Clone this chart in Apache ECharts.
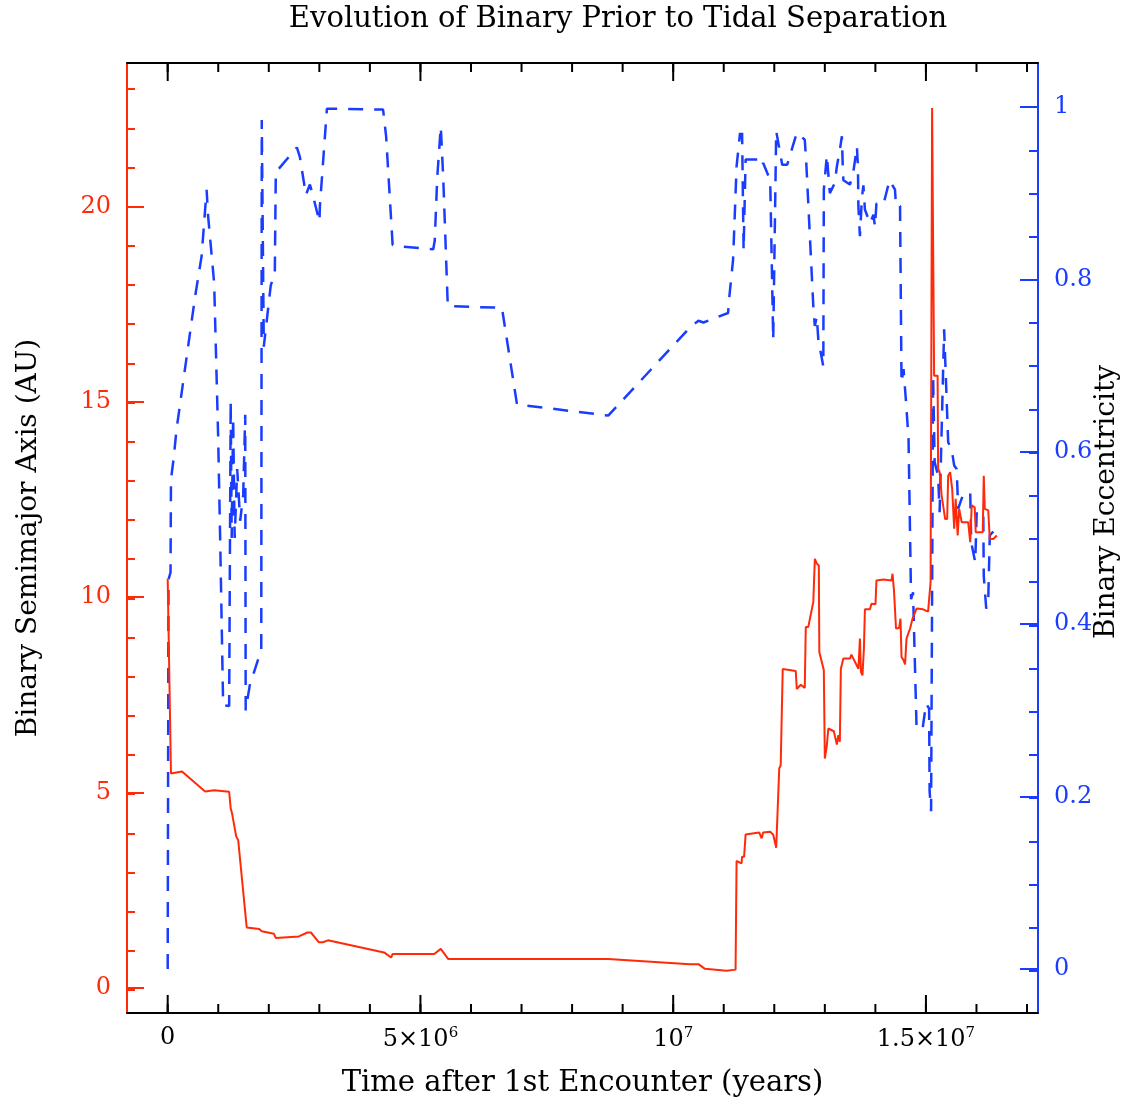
<!DOCTYPE html>
<html><head><meta charset="utf-8">
<script src="https://cdn.jsdelivr.net/npm/echarts@6/dist/echarts.min.js"></script>
<style>html,body{margin:0;padding:0;background:#fff}#c{width:1131px;height:1103px}</style>
</head><body><div id="c"></div>
<script>
// ---- data (time in Myr after 1st encounter) ----
const redTimeMyr = [
  0, 0.065, 0.284, 0.740, 0.919, 1.216, 1.246, 1.276, 1.355, 1.395,
  1.563, 1.811, 1.861, 2.099, 2.139, 2.595, 2.764, 2.833, 2.992, 3.071,
  3.170, 4.281, 4.420, 4.450, 5.273, 5.402, 5.551, 8.715, 10.331, 10.500,
  10.629, 11.056, 11.234, 11.254, 11.353, 11.363, 11.403, 11.433, 11.701, 11.750,
  11.780, 11.919, 11.979, 12.038, 12.098, 12.127, 12.167, 12.425, 12.445, 12.524,
  12.603, 12.623, 12.673, 12.772, 12.802, 12.841, 12.881, 12.891, 12.980, 13.000,
  13.040, 13.069, 13.178, 13.238, 13.267, 13.297, 13.317, 13.367, 13.496, 13.526,
  13.664, 13.694, 13.714, 13.744, 13.773, 13.793, 13.893, 13.922, 14.002, 14.021,
  14.160, 14.190, 14.319, 14.339, 14.368, 14.408, 14.468, 14.497, 14.517, 14.557,
  14.587, 14.616, 14.686, 14.735, 14.815, 14.944, 15.043, 15.092, 15.122, 15.162,
  15.231, 15.241, 15.271, 15.311, 15.380, 15.420, 15.440, 15.479, 15.519, 15.559,
  15.588, 15.628, 15.658, 15.707, 15.836, 15.876, 15.906, 15.965, 15.985, 16.124,
  16.144, 16.164, 16.233, 16.263, 16.333, 16.402
];
const semimajorAU = [
  10.47, 5.49, 5.54, 5.03, 5.06, 5.02, 4.60, 4.45, 3.88, 3.78,
  1.55, 1.51, 1.45, 1.39, 1.28, 1.32, 1.42, 1.42, 1.17, 1.17,
  1.22, 0.91, 0.78, 0.87, 0.87, 1.00, 0.74, 0.74, 0.61, 0.61,
  0.49, 0.44, 0.47, 3.25, 3.19, 3.36, 3.36, 3.93, 3.98, 3.83,
  3.98, 4.00, 3.92, 3.59, 5.62, 5.70, 8.16, 8.11, 7.65, 7.76,
  7.68, 9.24, 9.24, 9.88, 10.98, 10.86, 10.81, 8.60, 8.13, 5.87,
  6.21, 6.64, 6.57, 6.23, 6.47, 6.30, 8.17, 8.43, 8.43, 8.53,
  8.17, 8.94, 8.09, 8.00, 8.68, 9.69, 9.69, 9.83, 9.82, 10.43,
  10.45, 10.49, 10.43, 10.60, 10.17, 9.20, 9.21, 9.45, 8.47, 8.39,
  8.28, 8.94, 9.20, 9.45, 9.71, 9.69, 9.63, 10.39, 22.52, 15.67,
  15.67, 13.28, 13.20, 12.60, 12.00, 12.00, 13.11, 13.20, 12.77, 11.75,
  12.52, 11.58, 12.26, 11.92, 11.92, 11.41, 12.35, 12.30, 11.66, 11.66,
  13.11, 12.26, 12.22, 11.49, 11.49, 11.58
];
const blueTimeMyr = [
  0, 0.016, 0.056, 0.065, 0.115, 0.175, 0.313, 0.542, 0.671, 0.770,
  0.800, 0.919, 0.998, 1.038, 1.097, 1.216, 1.246, 1.266, 1.295, 1.325,
  1.375, 1.434, 1.494, 1.534, 1.543, 1.623, 1.772, 1.851, 1.861, 1.891,
  1.901, 2.039, 2.119, 2.139, 2.208, 2.555, 2.615, 2.734, 2.813, 2.853,
  3.002, 3.011, 3.150, 4.261, 4.321, 4.450, 4.658, 5.253, 5.283, 5.333,
  5.402, 5.422, 5.452, 5.541, 6.612, 6.910, 8.715, 10.361, 10.500, 10.599,
  11.086, 11.106, 11.185, 11.254, 11.323, 11.333, 11.363, 11.393, 11.433, 11.680,
  11.750, 11.780, 11.919, 11.979, 12.038, 12.068, 12.157, 12.256, 12.445, 12.603,
  12.633, 12.772, 12.802, 12.841, 12.871, 12.970, 12.980, 13.040, 13.099, 13.198,
  13.238, 13.297, 13.337, 13.357, 13.367, 13.496, 13.565, 13.635, 13.655, 13.664,
  13.694, 13.734, 13.763, 13.793, 13.893, 13.962, 13.992, 14.021, 14.160, 14.279,
  14.388, 14.408, 14.488, 14.517, 14.557, 14.607, 14.656, 14.706, 14.745, 14.815,
  14.934, 15.003, 15.063, 15.073, 15.102, 15.142, 15.172, 15.241, 15.271, 15.360,
  15.390, 15.440, 15.509, 15.559, 15.608, 15.638, 15.727, 15.777, 15.876, 15.896,
  15.975, 16.005, 16.134, 16.144, 16.193, 16.233, 16.263, 16.402
];
const eccentricity = [
  0, 0.452, 0.460, 0.568, 0.591, 0.626, 0.684, 0.780, 0.827, 0.904,
  0.873, 0.796, 0.618, 0.499, 0.306, 0.305, 0.659, 0.500, 0.640, 0.500,
  0.580, 0.520, 0.550, 0.643, 0.300, 0.329, 0.356, 0.370, 0.985, 0.985,
  0.722, 0.793, 0.807, 0.925, 0.929, 0.953, 0.942, 0.898, 0.910, 0.902,
  0.867, 0.885, 0.998, 0.997, 0.966, 0.840, 0.838, 0.835, 0.845, 0.919,
  0.977, 0.954, 0.916, 0.769, 0.767, 0.655, 0.642, 0.746, 0.752, 0.750,
  0.761, 0.777, 0.823, 0.931, 0.970, 0.958, 0.970, 0.834, 0.939, 0.939,
  0.931, 0.935, 0.915, 0.730, 0.972, 0.971, 0.933, 0.933, 0.970, 0.962,
  0.935, 0.769, 0.746, 0.757, 0.730, 0.699, 0.904, 0.944, 0.900, 0.912,
  0.931, 0.950, 0.966, 0.927, 0.915, 0.910, 0.925, 0.954, 0.930, 0.885,
  0.850, 0.895, 0.909, 0.881, 0.865, 0.875, 0.861, 0.888, 0.887, 0.915,
  0.904, 0.885, 0.885, 0.680, 0.696, 0.657, 0.615, 0.429, 0.437, 0.279,
  0.279, 0.308, 0.302, 0.206, 0.183, 0.688, 0.588, 0.572, 0.530, 0.742,
  0.742, 0.611, 0.603, 0.584, 0.580, 0.534, 0.549, 0.549, 0.553, 0.495,
  0.472, 0.530, 0.530, 0.456, 0.418, 0.429, 0.503, 0.512
];
const xMajorTicks = [0, 5e6, 1e7, 1.5e7];
const xTickLabels = ['0', '{n|5×10}{s|6}', '{n|10}{s|7}', '{n|1.5×10}{s|7}'];
const xMinorTicks = [0,1e6,2e6,3e6,4e6,5e6,6e6,7e6,8e6,9e6,1e7,1.1e7,1.2e7,1.3e7,1.4e7,1.5e7,1.6e7,1.7e7];
const leftMajorTicks = [0, 5, 10, 15, 20];
const leftMinorTicks = [0,1,2,3,4,5,6,7,8,9,10,11,12,13,14,15,16,17,18,19,20,21,22,23];
const rightMajorTicks = [0, 0.2, 0.4, 0.6, 0.8, 1];
const rightTickLabels = ['0', '0.2', '0.4', '0.6', '0.8', '1'];
const rightMinorTicks = [0,0.05,0.1,0.15,0.2,0.25,0.3,0.35,0.4,0.45,0.5,0.55,0.6,0.65,0.7,0.75,0.8,0.85,0.9,0.95,1];

const RED = '#ff2a0a', BLUE = '#1a3cff', FONT = 'DejaVu Serif';
const TICK_FS = 24, TITLE_FS = 29, YNAME_FS = 28;
const X_MIN = -0.805e6, X_MAX = 17.217e6;
const L_MIN = -0.64, L_MAX = 23.67, R_MIN = -0.051, R_MAX = 1.051;

const redData = redTimeMyr.map((t, i) => [t * 1e6, semimajorAU[i]]);
const blueData = blueTimeMyr.map((t, i) => [t * 1e6, eccentricity[i]]);

const gridBox = {left: 127, top: 63, width: 911, height: 952};
function line(show, color) {
  return {show: show, onZero: false, lineStyle: {color: color, width: 2}};
}
function ticks(values, len, color) {
  return {show: true, inside: true, length: len, customValues: values, lineStyle: {color: color, width: 2}};
}
const noLabel = () => ({show: false});
// x-axis tick marks (top and bottom frame), positioned through the x axis scale
function xTickSeries(values, len) {
  return {
    type: 'custom', xAxisIndex: 0, yAxisIndex: 0, silent: true, clip: false, z: 5,
    data: values.map(v => [v]), encode: {x: 0},
    renderItem: function (params, api) {
      const x = api.coord([api.value(0), 0])[0];
      const r = params.coordSys;
      const st = {stroke: '#000', lineWidth: 2};
      return {type: 'group', children: [
        {type: 'line', shape: {x1: x, y1: r.y + r.height, x2: x, y2: r.y + r.height - len}, style: st},
        {type: 'line', shape: {x1: x, y1: r.y, x2: x, y2: r.y + len}, style: st}
      ]};
    }
  };
}
const chart = echarts.init(document.getElementById('c'), null, {renderer: 'canvas'});
chart.setOption({
  animation: false,
  backgroundColor: '#fff',
  title: {
    text: 'Evolution of Binary Prior to Tidal Separation',
    left: 613, top: 0, textAlign: 'center',
    textStyle: {fontFamily: FONT, fontSize: TITLE_FS, fontWeight: 'normal', color: '#000'}
  },
  grid: [Object.assign({}, gridBox), Object.assign({}, gridBox)],
  xAxis: [
    {type: 'value', gridIndex: 0, position: 'bottom', min: X_MIN, max: X_MAX, splitLine: {show: false},
      axisLine: line(true, '#000'),
      axisTick: {show: false},
      axisLabel: {show: true, customValues: xMajorTicks, margin: 13, color: '#000',
        fontFamily: FONT, fontSize: TICK_FS,
        formatter: v => xTickLabels[xMajorTicks.indexOf(v)],
        rich: {n: {fontFamily: FONT, fontSize: TICK_FS, color: '#000', lineHeight: 28},
               s: {fontFamily: FONT, fontSize: 15, color: '#000', verticalAlign: 'top', lineHeight: 16}}},
      name: 'Time after 1st Encounter (years)', nameLocation: 'middle', nameGap: 56,
      nameTextStyle: {fontFamily: FONT, fontSize: TITLE_FS, color: '#000'}},
    {type: 'value', gridIndex: 0, position: 'top', min: X_MIN, max: X_MAX, splitLine: {show: false},
      axisLine: line(true, '#000'), axisTick: {show: false}, axisLabel: noLabel()},
    {type: 'value', gridIndex: 1, position: 'bottom', min: X_MIN, max: X_MAX, splitLine: {show: false},
      axisLine: line(false, '#000'), axisTick: {show: false}, axisLabel: noLabel()},
    {type: 'value', gridIndex: 1, position: 'top', min: X_MIN, max: X_MAX, splitLine: {show: false},
      axisLine: line(false, '#000'), axisTick: {show: false}, axisLabel: noLabel()}
  ],
  yAxis: [
    {type: 'value', gridIndex: 0, position: 'left', min: L_MIN, max: L_MAX, splitLine: {show: false},
      axisLine: line(true, RED), axisTick: ticks(leftMajorTicks, 17, RED),
      axisLabel: {show: true, customValues: leftMajorTicks, margin: 16, color: RED, fontFamily: FONT, fontSize: TICK_FS},
      name: 'Binary Semimajor Axis (AU)', nameLocation: 'middle', nameGap: 84, nameRotate: 90,
      nameTextStyle: {fontFamily: FONT, fontSize: YNAME_FS, color: '#000'}},
    {type: 'value', gridIndex: 0, position: 'right', min: R_MIN, max: R_MAX, splitLine: {show: false},
      axisLine: line(true, BLUE), axisTick: ticks(rightMajorTicks, 18, BLUE),
      axisLabel: {show: true, customValues: rightMajorTicks, margin: 16, color: BLUE, fontFamily: FONT, fontSize: TICK_FS,
        formatter: v => rightTickLabels[rightMajorTicks.indexOf(v)]}},
    {type: 'value', gridIndex: 1, position: 'left', min: L_MIN, max: L_MAX, splitLine: {show: false},
      axisLine: line(false, RED), axisTick: ticks(leftMinorTicks, 8, RED), axisLabel: noLabel()},
    {type: 'value', gridIndex: 1, position: 'right', min: R_MIN, max: R_MAX, splitLine: {show: false},
      axisLine: line(false, BLUE), axisTick: ticks(rightMinorTicks, 9, BLUE), axisLabel: noLabel()}
  ],
  graphic: [{
    type: 'text', x: 1107, y: 502, rotation: Math.PI / 2,
    style: {text: 'Binary Eccentricity', fontFamily: FONT, fontSize: YNAME_FS, fill: '#000',
      textAlign: 'center', textVerticalAlign: 'middle'}
  }],
  series: [
    xTickSeries(xMajorTicks, 18),
    xTickSeries(xMinorTicks, 9),
    {name: 'Eccentricity', type: 'line', xAxisIndex: 0, yAxisIndex: 1, data: blueData,
      showSymbol: false, symbol: 'none', z: 2,
      lineStyle: {color: BLUE, width: 2.5, type: [15, 11]}},
    {name: 'Semimajor axis', type: 'line', xAxisIndex: 0, yAxisIndex: 0, data: redData,
      showSymbol: false, symbol: 'none', z: 3,
      lineStyle: {color: RED, width: 2}}
  ]
});
</script>
</body></html>
